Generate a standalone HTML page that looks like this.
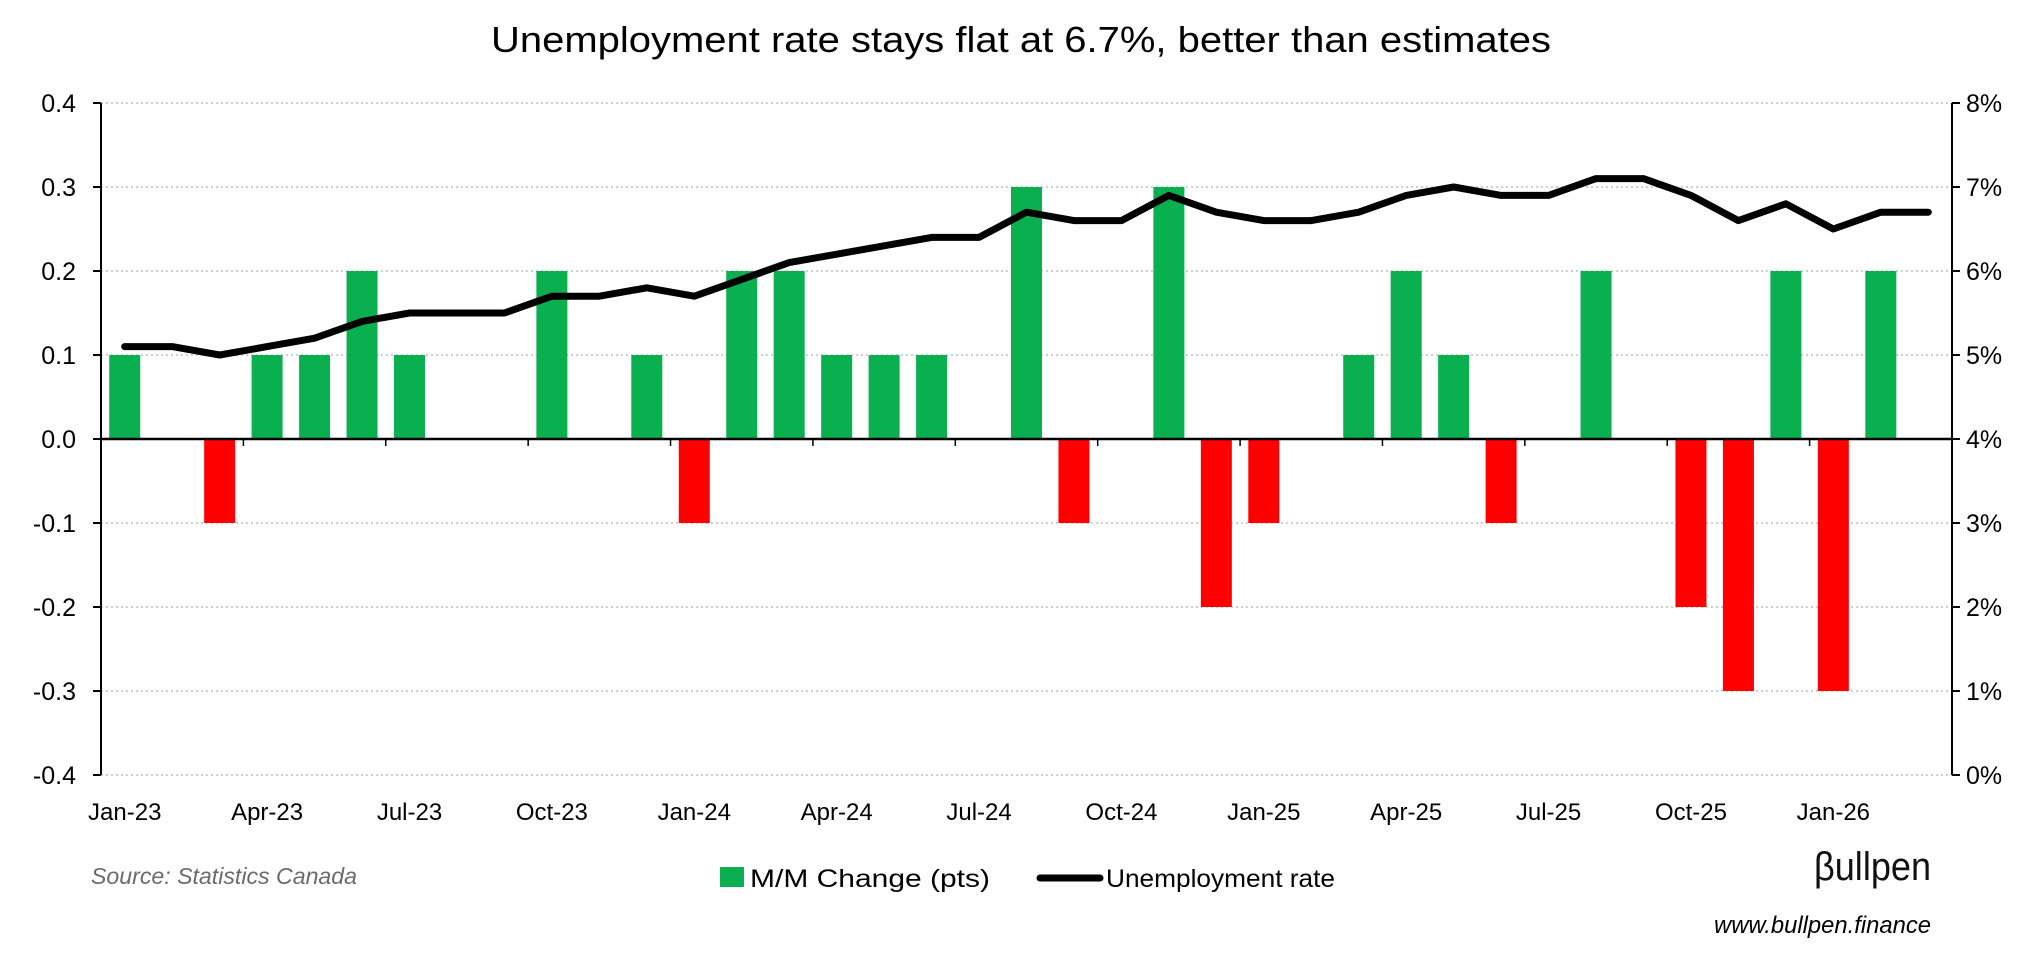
<!DOCTYPE html>
<html><head><meta charset="utf-8"><style>
html,body{margin:0;padding:0;background:#fff;}
svg{display:block;font-family:"Liberation Sans",sans-serif;}
</style></head><body>
<svg id="chart" width="2042" height="962" viewBox="0 0 2042 962">
<text x="1021" y="52" text-anchor="middle" font-size="36" textLength="1060" lengthAdjust="spacingAndGlyphs">Unemployment rate stays flat at 6.7%, better than estimates</text>
<g id="grid"></g><g id="bars"></g><g id="axes"></g><g id="line"></g><g id="labels"></g>
<text x="91" y="884" font-size="23" font-style="italic" fill="#6b6b6b" textLength="266" lengthAdjust="spacingAndGlyphs">Source: Statistics Canada</text>
<g>
<rect x="720" y="867" width="24" height="20" fill="#0aaf50"/>
<text x="750" y="887" font-size="25" textLength="240" lengthAdjust="spacingAndGlyphs">M/M Change (pts)</text>
<line x1="1040" y1="878" x2="1100" y2="878" stroke="#000" stroke-width="7" stroke-linecap="round"/>
<text x="1106" y="887" font-size="25" textLength="229" lengthAdjust="spacingAndGlyphs">Unemployment rate</text>
</g>
<text x="1814" y="880" font-size="40" fill="#111" textLength="117" lengthAdjust="spacingAndGlyphs">βullpen</text>
<text x="1931" y="933" text-anchor="end" font-size="24" font-style="italic" textLength="217" lengthAdjust="spacingAndGlyphs">www.bullpen.finance</text>
</svg>
<script>
const months = ["Jan-23","Feb-23","Mar-23","Apr-23","May-23","Jun-23","Jul-23","Aug-23","Sep-23","Oct-23","Nov-23","Dec-23","Jan-24","Feb-24","Mar-24","Apr-24","May-24","Jun-24","Jul-24","Aug-24","Sep-24","Oct-24","Nov-24","Dec-24","Jan-25","Feb-25","Mar-25","Apr-25","May-25","Jun-25","Jul-25","Aug-25","Sep-25","Oct-25","Nov-25","Dec-25","Jan-26","Feb-26","Mar-26"];
const changeValues = [0.1,0,-0.1,0.1,0.1,0.2,0.1,0,0,0.2,0,0.1,-0.1,0.2,0.2,0.1,0.1,0.1,0,0.3,-0.1,0,0.3,-0.2,-0.1,0,0.1,0.2,0.1,-0.1,0,0.2,0,-0.2,-0.3,0.2,-0.3,0.2,0];
const rateValues = [5.1,5.1,5.0,5.1,5.2,5.4,5.5,5.5,5.5,5.7,5.7,5.8,5.7,5.9,6.1,6.2,6.3,6.4,6.4,6.7,6.6,6.6,6.9,6.7,6.6,6.6,6.7,6.9,7.0,6.9,6.9,7.1,7.1,6.9,6.6,6.8,6.5,6.7,6.7];
const leftTicks = [0.4,0.3,0.2,0.1,0.0,-0.1,-0.2,-0.3,-0.4];
const leftTickLabels = ["0.4","0.3","0.2","0.1","0.0","-0.1","-0.2","-0.3","-0.4"];
const rightTicks = [8,7,6,5,4,3,2,1,0];
const rightTickLabels = ["8%","7%","6%","5%","4%","3%","2%","1%","0%"];

const NS="http://www.w3.org/2000/svg";
const L=101,R=1952,T=103,B=775;
const step=(R-L)/months.length;
const xC=i=>L+step*(i+0.5);
const yL=v=>T+(0.4-v)/0.8*(B-T);
const yR=v=>T+(8-v)/8*(B-T);
function mk(tag,attrs,parent){const e=document.createElementNS(NS,tag);for(const k in attrs)e.setAttribute(k,attrs[k]);document.getElementById(parent).appendChild(e);return e;}

leftTicks.forEach((v,i)=>{
  const y=yL(v);
  if(v!==0){const g=mk('line',{x1:L,x2:R,y1:y,y2:y,stroke:'#cfcfcf','stroke-width':2,'stroke-dasharray':'2 3'},'grid');
  
  }
  const tk=mk('line',{x1:L-8,x2:L,y1:y,y2:y,stroke:'#000','stroke-width':2},'axes');
  
  
  const t=mk('text',{x:76,y:y+9,'text-anchor':'end','font-size':25},'labels');
  t.textContent=leftTickLabels[i];
  
  
});
rightTicks.forEach((v,i)=>{
  const y=yR(v);
  const tk=mk('line',{x1:R,x2:R+8,y1:y,y2:y,stroke:'#000','stroke-width':2},'axes');
  
  
  const t=mk('text',{x:1966,y:y+9,'font-size':25},'labels');
  t.textContent=rightTickLabels[i];
  
  
});
changeValues.forEach((v,i)=>{
  if(v===0)return;
  const y0=yL(0),y1=yL(v);
  const bw=31;
  const r=mk('rect',{x:xC(i)-bw/2,y:Math.min(y0,y1),width:bw,height:Math.abs(y1-y0),fill:v>0?'#0aaf50':'#ff0000'},'bars');
  
  
});
const la=mk('line',{x1:L,x2:L,y1:T,y2:B,stroke:'#000','stroke-width':2},'axes');


const ra=mk('line',{x1:R,x2:R,y1:T,y2:B,stroke:'#000','stroke-width':2},'axes');


const za=mk('line',{x1:L,x2:R,y1:yL(0),y2:yL(0),stroke:'#000','stroke-width':2.5},'axes');


months.forEach((m,i)=>{
  if(i%3===0){
    if(i>0){const tk=mk('line',{x1:L+step*i,x2:L+step*i,y1:yL(0),y2:yL(0)+7,stroke:'#000','stroke-width':1.5},'axes');
    
    }
    const t=mk('text',{x:xC(i),y:820,'text-anchor':'middle','font-size':24},'labels');
    t.textContent=m;
    
    
  }
});
const pts=rateValues.map((v,i)=>xC(i).toFixed(1)+','+yR(v).toFixed(1)).join(' ');
const pl=mk('polyline',{points:pts,fill:'none',stroke:'#000','stroke-width':7,'stroke-linejoin':'round','stroke-linecap':'round'},'line');


</script>
</body></html>
